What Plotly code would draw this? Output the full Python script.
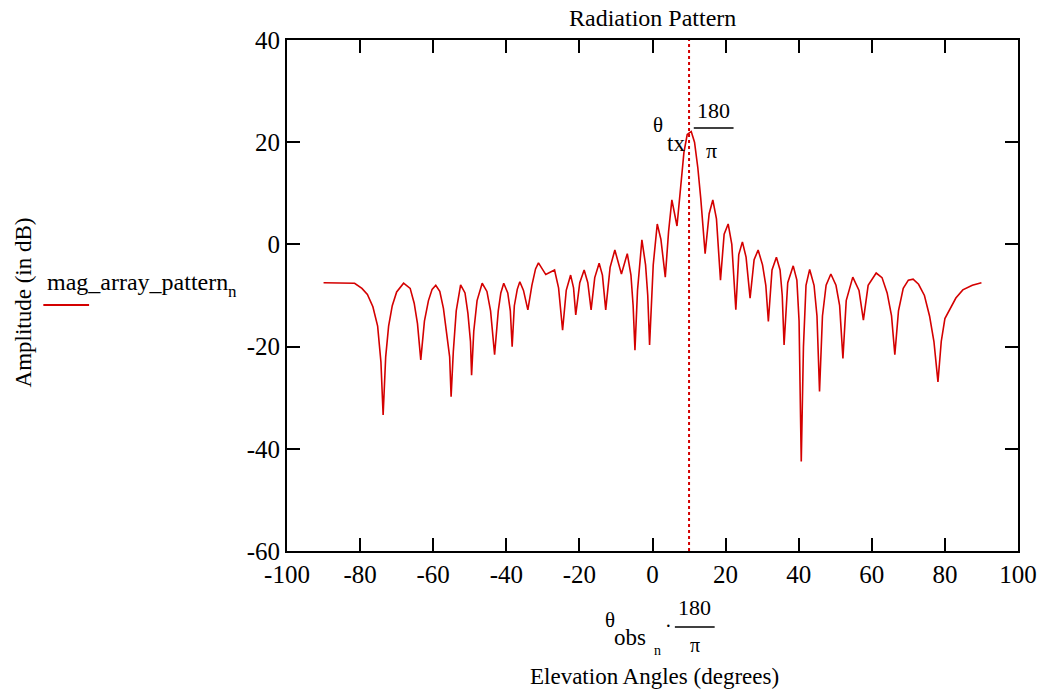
import plotly.graph_objects as go

# Elevation angle (deg) and amplitude (dB)
angles = [-90, -85, -81.5, -79.5, -78, -76.5, -75.2, -74.3, -73.7, -73.0, -72.2, -71.2, -70.0, -68.1,
          -66.3, -65.2, -64.3, -63.4, -62.4, -61.3, -60.3, -59.3, -58.2, -57.2, -56.3, -55.5, -55.1,
          -54.5, -53.7, -52.5, -51.3, -50.5, -49.8, -49.5, -48.9, -48.0, -46.6, -45.3, -44.3, -43.2,
          -42.2, -41.5, -40.7, -39.6, -38.9, -38.4, -37.8, -37.0, -36.3, -35.3, -34.1, -33.0, -32.0,
          -31.2, -29.2, -26.8, -25.7, -24.6, -23.6, -22.4, -21.6, -21.0, -19.9, -18.7, -17.7, -16.8,
          -15.8, -14.6, -13.7, -12.8, -11.6, -10.3, -8.5, -6.9, -5.9, -5.3, -4.8, -4.1, -2.9, -1.9,
          -1.3, -0.8, 0.2, 1.3, 2.3, 3.5, 4.4, 5.3, 6.7, 7.8, 8.6, 9.5, 10.6, 11.5, 12.4, 13.2, 14.4,
          15.5, 16.5, 17.5, 18.6, 19.6, 20.7, 21.7, 22.8, 23.6, 24.6, 25.6, 26.7, 27.8, 28.9, 30.1,
          31.0, 31.7, 32.7, 33.9, 34.9, 35.5, 36.0, 37.0, 38.5, 39.5, 40.1, 40.5, 40.7, 41.3, 42.0,
          43.0, 44.2, 45.0, 45.7, 46.5, 47.5, 48.8, 50.2, 51.2, 52.1, 53.0, 54.8, 56.5, 57.7, 59.0,
          61.2, 62.8, 64.2, 65.4, 66.3, 67.3, 68.6, 70.0, 71.3, 72.8, 74.4, 75.8, 77.0, 78.1, 79.0,
          80.0, 81.3, 83.0, 84.9, 87.5, 90.0]
amplitude_db = [-7.5, -7.5, -7.6, -8.6, -9.8, -12.2, -16, -23, -33.4, -22, -16, -12, -9.3, -7.6,
                -8.6, -11.5, -15.5, -22.6, -15, -11, -8.8, -8.0, -9.2, -12.5, -17, -22, -29.8,
                -21, -13, -7.9, -9.5, -13.5, -19, -25.6, -17, -11, -7.6, -9.2, -13, -21.6,
                -13, -9.5, -7.6, -9.5, -13, -20.0, -12, -8.8, -7.3, -9.0, -12.8, -8.0, -4.8,
                -3.6, -5.9, -5.0, -8.5, -16.8, -9.0, -6.0, -8.5, -13.8, -7.5, -5.0, -7.5, -12.8,
                -6.5, -3.7, -6.0, -12.8, -4.5, -1.1, -5.8, -1.8, -6, -12, -20.7, -9, 0.9, -4,
                -10, -19.7, -4, 4.0, 1, -6.4, 2.5, 8.7, 3.6, 12, 18, 21.5, 22.1, 20, 15, 9, -1.8,
                6, 8.7, 5, -7.0, 2, 4.0, 0, -12.8, -2, 0.5, -2.5, -10.5, -3, -1.1, -4,
                -8, -15.1, -5, -2.5, -5, -10, -19.7, -7.5, -4.2, -7, -15, -33.7, -42.5, -20, -8,
                -4.9, -8, -14, -28.8, -14, -8, -5.8, -8, -12, -22.3, -11, -6.4, -9.0, -14.8, -8.0,
                -5.6, -6.5, -9.5, -14, -21.6, -13, -8.6, -7.0, -6.8, -7.8, -10, -14, -19, -26.9, -19,
                -14.5, -12.8, -10.5, -8.9, -8.0, -7.5]

theta_tx_deg = 10
x_ticks = [-100, -80, -60, -40, -20, 0, 20, 40, 60, 80, 100]
y_ticks = [-60, -40, -20, 0, 20, 40]

RED = "#d40000"
FONT = "Liberation Serif"

fig = go.Figure()
fig.add_trace(go.Scatter(x=angles, y=amplitude_db, mode="lines",
                         line=dict(color=RED, width=1.6), showlegend=False, hoverinfo="skip"))
fig.add_trace(go.Scatter(x=[theta_tx_deg, theta_tx_deg], y=[y_ticks[0], y_ticks[-1]], mode="lines",
                         line=dict(color=RED, width=2, dash="3px,3px"), showlegend=False,
                         hoverinfo="skip"))

axis_common = dict(showgrid=False, zeroline=False, showline=True, linecolor="black", linewidth=2,
                   mirror="ticks", ticks="inside", ticklen=13, tickwidth=2, tickcolor="black",
                   tickfont=dict(family=FONT, size=25, color="black"))
fig.update_xaxes(range=[-100, 100], tickvals=x_ticks, ticktext=[str(v) for v in x_ticks],
                 **axis_common)
fig.update_yaxes(range=[-60, 40], tickvals=y_ticks, ticktext=[str(v) for v in y_ticks],
                 **axis_common)

W, H = 1049, 689
L, R, T, B = 287, 27, 40, 138


def px(xp):
    return (xp - L) / (W - L - R)


def py(yp):
    return 1 - (yp - T) / (H - T - B)


def ann(text, xp, yp, size=24, xanchor="center", yanchor="middle", angle=0):
    fig.add_annotation(text=text, x=px(xp), y=py(yp), xref="paper", yref="paper",
                       showarrow=False, xanchor=xanchor, yanchor=yanchor, textangle=angle,
                       font=dict(family=FONT, size=size, color="black"))


def hline(x0, x1, yp, color="black", width=1.5):
    fig.add_shape(type="line", xref="paper", yref="paper", x0=px(x0), x1=px(x1),
                  y0=py(yp), y1=py(yp), line=dict(color=color, width=width))


# Title
ann("Radiation Pattern", 655, 18, size=24)
# Y axis title
ann("Amplitude (in dB)", 22, 302, size=23, angle=-90)
# Legend
ann("mag_array_pattern", 44, 282, size=24, xanchor="left")
ann("n", 226, 291, size=17, xanchor="left")
hline(42, 88, 305, color=RED, width=2)
# X axis title: theta_obs_n * 180/pi
ann("θ", 612, 620, size=21)
ann("obs", 632, 637, size=23)
ann("n", 660, 650, size=14)
ann("·", 671, 626, size=20)
ann("180", 697, 607, size=22)
hline(677, 717, 627)
ann("π", 697, 645, size=20)
ann("Elevation Angles (degrees)", 657, 676, size=23)
# Marker annotation: theta_tx * 180/pi
ann("θ", 660, 125, size=21)
ann("tx", 678, 143, size=23)
ann("180", 716, 110, size=22)
hline(696, 736, 128)
ann("π", 714, 150, size=22)

fig.update_layout(width=W, height=H, margin=dict(l=L, r=R, t=T, b=B),
                  plot_bgcolor="white", paper_bgcolor="white")
fig.write_html("out.html")
